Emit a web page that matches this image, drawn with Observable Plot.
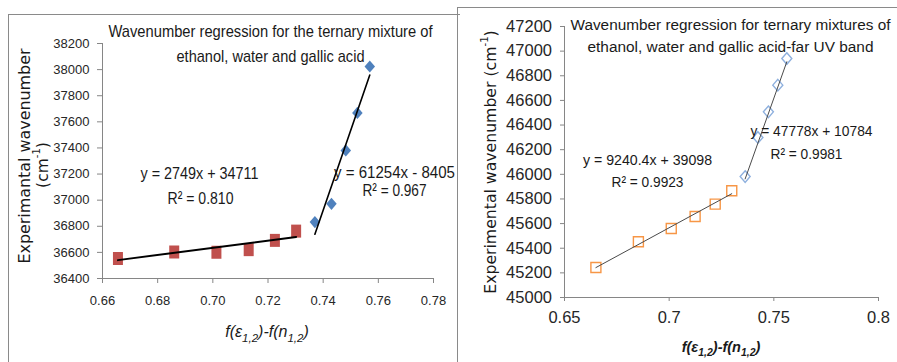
<!DOCTYPE html>
<html>
<head>
<meta charset="utf-8">
<script src="https://cdn.jsdelivr.net/npm/d3@7"></script>
<script src="https://cdn.jsdelivr.net/npm/@observablehq/plot@0.6"></script>
<style>
  body { margin: 0; background: #fff; }
  #page { position: relative; width: 897px; height: 362px; overflow: hidden; background: #fff; }
  .panel { position: absolute; top: 0; }
  .box { position: absolute; border: 1.5px solid #8a8a8a; box-sizing: border-box; }
</style>
</head>
<body>
<div id="page">
  <div class="box" style="left:8px; top:14px; width:452px; height:400px; border-right:none;"></div>
  <div class="box" style="left:457px; top:7px; width:500px; height:400px;"></div>
  <div id="left" class="panel" style="left:0px;"></div>
  <div id="right" class="panel" style="left:457px;"></div>
</div>
<script>
// Solvatochromic wavenumber data, f(ε1,2)-f(n1,2) vs wavenumber (cm-1)

// Left chart: main band
const leftLowX = [0.6656, 0.6860, 0.7013, 0.7130, 0.7225, 0.7302];
const leftLowY = [36553, 36603, 36601, 36621, 36692, 36763];
const leftHighX = [0.7370, 0.7430, 0.7482, 0.7524, 0.7569];
const leftHighY = [36832, 36972, 37381, 37668, 38024];
const leftSlopes = [2749, 61254];
const leftIntercepts = [34711, -8405];
const leftR2 = ["0.810", "0.967"];
const leftXTicks = [0.66, 0.68, 0.70, 0.72, 0.74, 0.76, 0.78];
const leftYTicks = [36400, 36600, 36800, 37000, 37200, 37400, 37600, 37800, 38000, 38200];
const leftTitle = ["Wavenumber regression for the ternary mixture of", "ethanol, water and gallic acid"];
const leftYLabel = ["Experimantal wavenumber", "(cm", "-1", ")"];

// Right chart: far UV band
const rightLowX = [0.6650, 0.6853, 0.7010, 0.7124, 0.7220, 0.7299];
const rightLowY = [45243, 45452, 45560, 45657, 45758, 45866];
const rightHighX = [0.7363, 0.7424, 0.7474, 0.7519, 0.7562];
const rightHighY = [45982, 46299, 46507, 46724, 46940];
const rightSlopes = [9240.4, 47778];
const rightIntercepts = [39098, 10784];
const rightR2 = ["0.9923", "0.9981"];
const rightXTicks = [0.65, 0.7, 0.75, 0.8];
const rightYTicks = [45000, 45200, 45400, 45600, 45800, 46000, 46200, 46400, 46600, 46800, 47000, 47200];
const rightTitle = ["Wavenumber regression for ternary mixtures of", "ethanol, water and gallic acid-far UV band"];
const rightYLabel = ["Experimental wavenumber (cm", "-1", ")"];

const SANS = "'Liberation Sans', Arial, sans-serif";
const VERD = "'DejaVu Sans', Verdana, sans-serif";

const points = (xs, ys) => xs.map((x, i) => ({x, y: ys[i]}));
const fitLine = (xs, slope, intercept) => {
  const [x0, x1] = d3.extent(xs);
  return [{x: x0, y: slope * x0 + intercept}, {x: x1, y: slope * x1 + intercept}];
};
const eqText = (slope, intercept) =>
  `y = ${slope}x ${intercept < 0 ? "-" : "+"} ${Math.abs(intercept)}`;

// marker shapes
const tallSquare = {draw(ctx, size) { const r = Math.sqrt(size / Math.PI); ctx.rect(-r * 0.5, -r * 0.65, r, r * 1.3); }};
const square = {draw(ctx, size) { const r = Math.sqrt(size / Math.PI); ctx.rect(-r / 2, -r / 2, r, r); }};
const diamond = {draw(ctx, size) {
  const r = Math.sqrt(size / Math.PI), w = r * 0.5, h = r * 0.58;
  ctx.moveTo(0, -h); ctx.lineTo(w, 0); ctx.lineTo(0, h); ctx.lineTo(-w, 0); ctx.closePath();
}};

// annotation helper: text placed at a pixel position, optionally condensed to a set width
let noteId = 0;
const condensed = [];
function note(text, px, py, m, opts = {}, width = null) {
  const cls = `note-${noteId++}`;
  if (width) condensed.push({cls, width});
  return Plot.text([text], {
    text: d => d, frameAnchor: "top-left", dx: px - m.left, dy: py - m.top,
    textAnchor: "middle", lineAnchor: "middle", fontFamily: SANS, fontSize: 17, fill: "#1a1a1a",
    className: cls, ...opts
  });
}
function applyCondensed(svg) {
  for (const {cls, width} of condensed) {
    d3.select(svg).selectAll(`.${cls} text`)
      .attr("textLength", width).attr("lengthAdjust", "spacingAndGlyphs");
  }
}

// x axis title with subscripts
function xTitle(svg, cx, cy, size, bold) {
  const t = d3.select(svg).append("text")
    .attr("x", cx).attr("y", cy).attr("text-anchor", "middle")
    .attr("font-family", SANS).attr("font-style", "italic")
    .attr("font-weight", bold ? "bold" : "normal")
    .attr("font-size", size).attr("fill", "#1a1a1a");
  t.append("tspan").text("f(ε");
  t.append("tspan").attr("dy", size * 0.3).attr("font-size", size * 0.72).text("1,2");
  t.append("tspan").attr("dy", -size * 0.3).text(")-f(n");
  t.append("tspan").attr("dy", size * 0.3).attr("font-size", size * 0.72).text("1,2");
  t.append("tspan").attr("dy", -size * 0.3).text(")");
}

// rotated y axis title with optional superscript
function yTitle(svg, cx, cy, size, parts, width) {
  const t = d3.select(svg).append("text")
    .attr("transform", `translate(${cx},${cy}) rotate(-90)`)
    .attr("text-anchor", "middle").attr("dominant-baseline", "middle")
    .attr("font-family", VERD).attr("font-size", size).attr("fill", "#1a1a1a");
  if (width) t.attr("textLength", width).attr("lengthAdjust", "spacingAndGlyphs");
  t.append("tspan").text(parts[0]);
  if (parts.length > 1) {
    t.append("tspan").attr("dy", -size * 0.4).attr("font-size", size * 0.65).text(parts[1]);
    t.append("tspan").attr("dy", size * 0.4).text(parts[2]);
  }
}

// ---------- left chart ----------
{
  const m = {top: 43, right: 23, bottom: 84, left: 102};
  const W = 456, H = 362;
  const xDom = d3.extent(leftXTicks), yDom = d3.extent(leftYTicks);
  const plot = Plot.plot({
    width: W, height: H,
    marginTop: m.top, marginRight: m.right, marginBottom: m.bottom, marginLeft: m.left,
    x: {domain: xDom}, y: {domain: yDom},
    style: {fontFamily: SANS, fontSize: "13px", background: "transparent", overflow: "visible"},
    marks: [
      Plot.ruleX([xDom[0]], {stroke: "#868686"}),
      Plot.ruleY([yDom[0]], {stroke: "#868686"}),
      Plot.axisY({ticks: leftYTicks, tickFormat: d3.format("d"), tickSize: 5, tickPadding: 8,
        stroke: "#868686", fill: "#262626", label: null, fontSize: 13}),
      Plot.axisX({ticks: leftXTicks, tickFormat: d3.format(".2f"), tickSize: 5, tickPadding: 12,
        stroke: "#868686", fill: "#262626", label: null, fontSize: 13}),
      Plot.dot(points(leftLowX, leftLowY), {x: "x", y: "y", r: 10, symbol: tallSquare, fill: "#C0504D", stroke: "none"}),
      Plot.dot(points(leftHighX, leftHighY), {x: "x", y: "y", r: 10.5, symbol: diamond, fill: "#4F81BD", stroke: "none"}),
      Plot.line(fitLine(leftLowX, leftSlopes[0], leftIntercepts[0]), {x: "x", y: "y", stroke: "#000", strokeWidth: 2}),
      Plot.line(fitLine(leftHighX, leftSlopes[1], leftIntercepts[1]), {x: "x", y: "y", stroke: "#000", strokeWidth: 1.6}),
      note(leftTitle[0], 270, 31, m, {}, 324),
      note(leftTitle[1], 270, 56, m, {}, 188),
      note(eqText(leftSlopes[0], leftIntercepts[0]), 199, 173, m, {}, 118),
      note(`R² = ${leftR2[0]}`, 200, 198, m, {}, 66),
      note(eqText(leftSlopes[1], leftIntercepts[1]), 394, 172, m, {}, 121),
      note(`R² = ${leftR2[1]}`, 394, 190, m, {}, 64)
    ]
  });
  applyCondensed(plot);
  xTitle(plot, 267, 337, 16, false);
  yTitle(plot, 25, 156, 15.5, [leftYLabel[0]], 215);
  yTitle(plot, 43, 165, 15.5, leftYLabel.slice(1));
  document.getElementById("left").append(plot);
}

// ---------- right chart ----------
{
  const m = {top: 26, right: 19, bottom: 65, left: 107};
  const W = 440, H = 362, ox = 457;
  const xDom = d3.extent(rightXTicks), yDom = d3.extent(rightYTicks);
  const plot = Plot.plot({
    width: W, height: H,
    marginTop: m.top, marginRight: m.right, marginBottom: m.bottom, marginLeft: m.left,
    x: {domain: xDom}, y: {domain: yDom},
    style: {fontFamily: SANS, fontSize: "16.5px", background: "transparent", overflow: "visible"},
    marks: [
      Plot.ruleX([xDom[0]], {stroke: "#868686"}),
      Plot.ruleY([yDom[0]], {stroke: "#868686"}),
      Plot.axisY({ticks: rightYTicks, tickFormat: d3.format("d"), tickSize: 4, tickPadding: 8.5,
        stroke: "#868686", fill: "#262626", label: null, fontSize: 16.5}),
      Plot.axisX({ticks: rightXTicks, tickFormat: d3.format("~g"), tickSize: 4, tickPadding: 10,
        stroke: "#868686", fill: "#262626", label: null, fontSize: 16.5}),
      Plot.dot(points(rightLowX, rightLowY), {x: "x", y: "y", r: 10, symbol: square, fill: "none", stroke: "#F79646", strokeWidth: 1.4}),
      Plot.dot(points(rightHighX, rightHighY), {x: "x", y: "y", r: 10, symbol: diamond, fill: "none", stroke: "#8EB0DE", strokeWidth: 1.4}),
      Plot.line(fitLine(rightLowX, rightSlopes[0], rightIntercepts[0]), {x: "x", y: "y", stroke: "#4a4a4a", strokeWidth: 1}),
      Plot.line(fitLine(rightHighX, rightSlopes[1], rightIntercepts[1]), {x: "x", y: "y", stroke: "#4a4a4a", strokeWidth: 1}),
      note(rightTitle[0], 730 - ox, 25, m, {fontSize: 15.3}, 320),
      note(rightTitle[1], 730 - ox, 47, m, {fontSize: 15.5}, 286),
      note(eqText(rightSlopes[0], rightIntercepts[0]), 647 - ox, 160, m, {fontSize: 15.5}, 129),
      note(`R² = ${rightR2[0]}`, 647 - ox, 182, m, {fontSize: 15.5}, 72),
      note(eqText(rightSlopes[1], rightIntercepts[1]), 811 - ox, 131, m, {fontSize: 15.5}, 122),
      note(`R² = ${rightR2[1]}`, 806 - ox, 154, m, {fontSize: 15.5}, 72)
    ]
  });
  applyCondensed(plot);
  xTitle(plot, 721 - ox, 352, 14.5, true);
  yTitle(plot, 491 - ox, 162, 15.7, rightYLabel);
  document.getElementById("right").append(plot);
}
</script>
</body>
</html>
